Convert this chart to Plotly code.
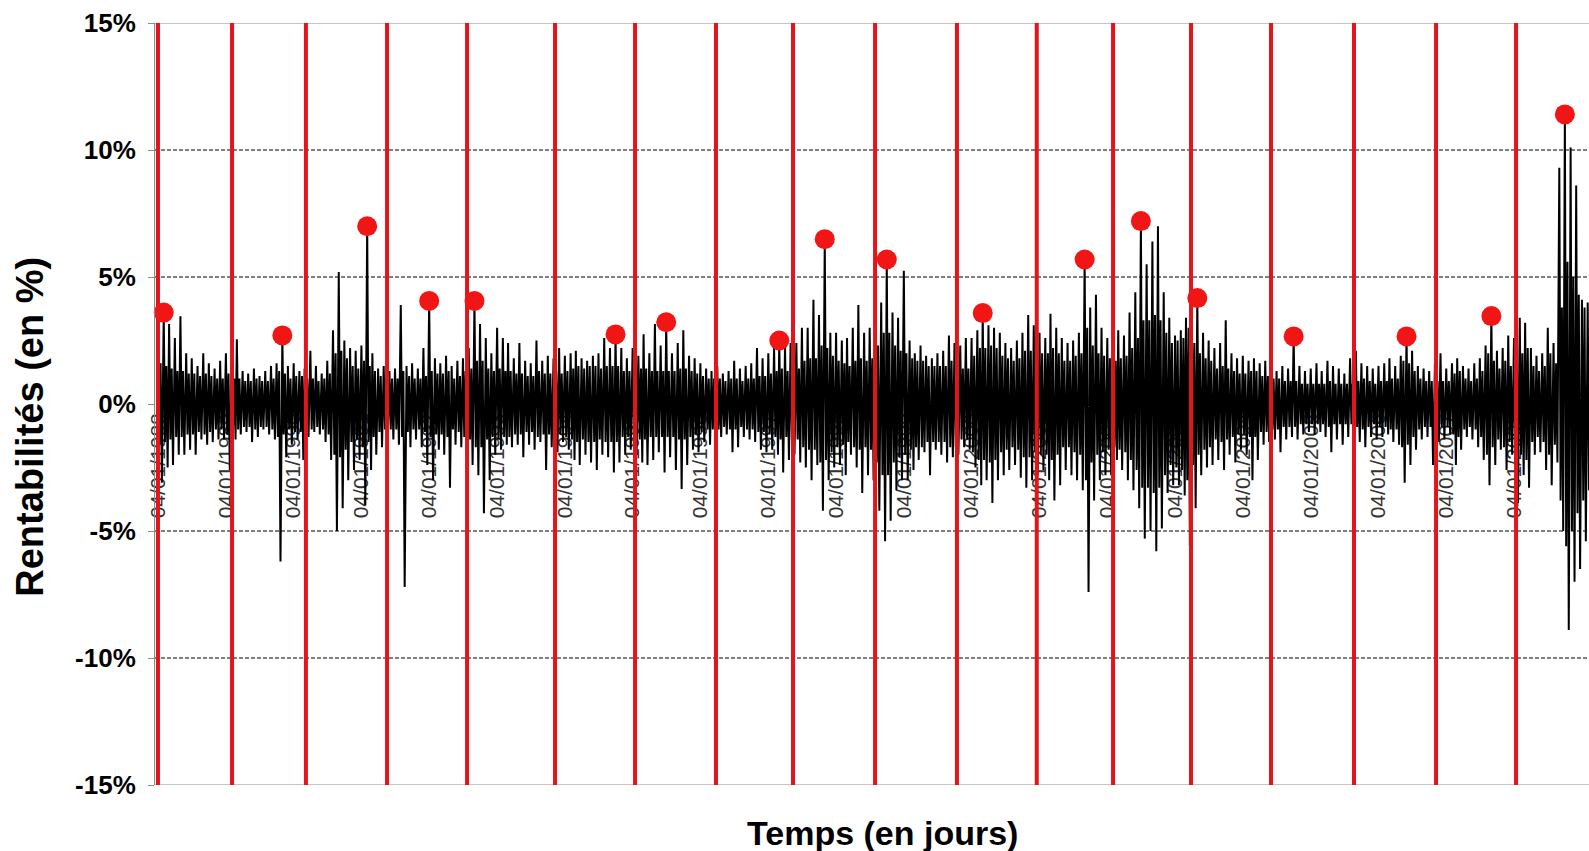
import plotly.graph_objects as go

# ---------------- data (daily returns in %, read per month: high, low and solid-core half-width) ----------------
hi_1988 = [2.6, 3.6, 3.15, 2.6, 3.45, 2.0, 1.8, 1.5, 2.0, 1.6, 1.4, 1.7]
lo_1988 = [-3.1, -2.5, -2.4, -2.0, -2.0, -1.8, -2.0, -1.4, -1.6, -1.5, -1.4, -1.4]
core_1988 = [1.6, 1.5, 1.4, 1.3, 1.3, 1.2, 1.2, 1.1, 1.2, 1.1, 1.0, 1.0]
hi_1989 = [2.0, 1.4, 2.55, 1.3, 1.2, 1.4, 1.1, 1.3, 1.5, 1.6, 2.7, 1.5]
lo_1989 = [-2.6, -1.4, -1.2, -1.1, -1.5, -1.3, -1.0, -1.2, -1.4, -6.2, -2.1, -1.6]
core_1989 = [1.2, 1.0, 1.0, 0.9, 0.9, 1.0, 0.9, 0.9, 1.0, 1.3, 1.2, 1.0]
hi_1990 = [1.6, 1.3, 1.4, 2.1, 1.5, 1.2, 1.7, 2.9, 5.2, 2.5, 2.2, 2.1]
lo_1990 = [-1.4, -2.2, -1.3, -1.1, -1.2, -1.5, -2.2, -5.0, -4.1, -3.0, -2.6, -2.2]
core_1990 = [1.1, 1.1, 1.0, 1.0, 0.9, 1.0, 1.2, 2.0, 2.1, 1.8, 1.5, 1.4]
hi_1991 = [2.3, 7.0, 2.0, 1.4, 1.5, 1.3, 1.4, 3.9, 1.5, 1.6, 1.4, 2.2]
lo_1991 = [-4.0, -2.6, -2.0, -1.7, -1.5, -1.4, -1.6, -7.2, -1.7, -1.4, -1.7, -2.4]
core_1991 = [1.7, 1.5, 1.3, 1.1, 1.0, 1.0, 1.0, 1.3, 1.1, 1.0, 1.0, 1.1]
hi_1992 = [4.06, 1.8, 1.6, 1.9, 1.5, 1.7, 1.8, 2.2, 4.06, 3.15, 2.6, 2.0]
lo_1992 = [-3.0, -1.8, -2.0, -3.3, -1.6, -1.7, -2.0, -2.4, -2.8, -4.3, -3.0, -2.0]
core_1992 = [1.3, 1.2, 1.2, 1.3, 1.0, 1.1, 1.3, 1.4, 1.7, 1.7, 1.4, 1.3]
hi_1993 = [3.0, 2.6, 2.4, 1.8, 2.4, 1.7, 1.6, 2.5, 1.7, 1.9, 1.8, 2.2]
lo_1993 = [-1.8, -1.6, -1.7, -1.6, -2.1, -1.6, -1.8, -1.5, -2.6, -1.7, -1.9, -1.5]
core_1993 = [1.4, 1.3, 1.3, 1.2, 1.2, 1.1, 1.1, 1.3, 1.2, 1.2, 1.3, 1.2]
hi_1994 = [1.9, 2.0, 2.1, 1.8, 1.7, 1.9, 2.0, 2.6, 2.2, 2.74, 2.2, 1.8]
lo_1994 = [-1.8, -2.2, -2.4, -2.0, -2.3, -2.6, -2.0, -2.1, -2.7, -2.3, -2.0, -1.8]
core_1994 = [1.3, 1.4, 1.5, 1.4, 1.5, 1.5, 1.4, 1.5, 1.5, 1.5, 1.3, 1.3]
hi_1995 = [2.2, 1.9, 2.75, 2.0, 3.15, 2.3, 3.22, 2.0, 2.4, 2.9, 1.9, 1.8]
lo_1995 = [-2.0, -2.3, -2.4, -2.2, -1.9, -2.7, -2.1, -2.6, -3.35, -2.4, -1.8, -1.9]
core_1995 = [1.4, 1.4, 1.4, 1.3, 1.3, 1.3, 1.3, 1.3, 1.4, 1.4, 1.3, 1.2]
hi_1996 = [1.6, 1.4, 1.3, 1.5, 1.2, 1.3, 1.7, 1.4, 1.5, 1.6, 2.2, 1.8]
lo_1996 = [-1.5, -1.6, -1.4, -1.3, -1.2, -1.9, -1.7, -1.3, -1.4, -1.5, -1.8, -1.9]
core_1996 = [1.1, 1.0, 1.0, 1.0, 0.9, 1.0, 1.0, 0.9, 1.0, 1.0, 1.1, 1.1]
hi_1997 = [2.0, 2.2, 2.5, 2.3, 2.4, 2.4, 3.0, 3.0, 4.1, 3.5, 6.49, 2.8]
lo_1997 = [-1.8, -2.0, -2.7, -2.2, -2.0, -2.3, -2.5, -3.0, -2.4, -4.2, -3.0, -2.5]
core_1997 = [1.2, 1.3, 1.4, 1.3, 1.4, 1.4, 1.7, 1.8, 1.8, 2.3, 2.2, 1.9]
hi_1998 = [2.8, 2.5, 2.6, 3.0, 3.9, 2.8, 3.0, 3.5, 4.0, 5.69, 3.6, 3.4]
lo_1998 = [-2.4, -2.8, -2.0, -2.5, -3.5, -2.8, -3.0, -4.2, -5.4, -4.6, -3.4, -3.0]
core_1998 = [1.7, 1.6, 1.5, 1.7, 1.8, 1.7, 1.8, 2.3, 2.8, 2.8, 2.3, 2.1]
hi_1999 = [5.25, 2.5, 2.0, 2.3, 1.9, 1.8, 2.0, 2.1, 2.7, 2.4, 2.3, 2.6]
lo_1999 = [-3.0, -2.6, -2.2, -1.9, -2.8, -1.8, -2.0, -2.3, -2.1, -2.0, -1.7, -1.8]
core_1999 = [2.0, 1.8, 1.7, 1.7, 1.5, 1.5, 1.5, 1.5, 1.7, 1.7, 1.4, 1.4]
hi_2000 = [2.6, 2.9, 3.58, 3.1, 3.0, 2.8, 2.4, 2.2, 2.5, 2.8, 3.5, 3.1]
lo_2000 = [-2.5, -3.2, -3.0, -3.9, -3.0, -2.8, -2.6, -2.4, -2.9, -3.3, -3.0, -2.8]
core_2000 = [1.9, 2.2, 2.2, 2.3, 2.2, 1.9, 1.8, 1.7, 1.8, 2.1, 2.1, 1.9]
hi_2001 = [2.8, 2.6, 3.55, 3.0, 2.6, 2.4, 2.5, 2.8, 5.69, 3.8, 4.3, 3.0]
lo_2001 = [-2.6, -3.0, -3.8, -3.2, -2.6, -2.8, -3.0, -3.4, -7.4, -3.8, -3.0, -2.8]
core_2001 = [2.0, 2.0, 2.2, 2.0, 1.7, 1.7, 1.9, 2.0, 3.0, 2.3, 2.0, 1.9]
hi_2002 = [2.6, 2.4, 2.9, 2.7, 3.6, 4.4, 7.2, 5.5, 6.4, 7.0, 4.4, 3.4]
lo_2002 = [-2.8, -2.2, -2.6, -3.0, -3.4, -4.1, -5.3, -5.0, -5.8, -4.9, -3.5, -3.2]
core_2002 = [1.8, 1.7, 1.8, 1.9, 2.2, 2.6, 3.3, 3.3, 3.5, 3.3, 2.8, 2.4]
hi_2003 = [2.7, 2.9, 3.4, 3.6, 4.17, 2.8, 2.5, 2.2, 2.4, 3.3, 2.0, 1.8]
lo_2003 = [-3.2, -3.6, -5.6, -4.1, -2.8, -2.5, -2.4, -2.2, -2.6, -2.0, -2.3, -1.8]
core_2003 = [2.5, 2.6, 3.0, 2.4, 2.0, 1.8, 1.7, 1.4, 1.5, 1.4, 1.3, 1.2]
hi_2004 = [1.9, 1.7, 1.8, 1.6, 1.7, 1.4, 1.3, 1.5, 1.4, 2.66, 1.5, 1.3]
lo_2004 = [-2.0, -3.0, -2.2, -1.6, -1.5, -1.4, -1.9, -1.4, -1.3, -1.4, -1.2, -1.1]
core_2004 = [1.2, 1.3, 1.3, 1.1, 1.1, 1.0, 1.0, 0.9, 0.9, 0.9, 0.8, 0.8]
hi_2005 = [1.4, 1.6, 1.3, 1.7, 1.5, 1.4, 1.2, 1.8, 2.1, 1.6, 1.5, 1.4]
lo_2005 = [-1.2, -1.1, -1.3, -1.9, -1.4, -1.6, -1.3, -1.2, -1.5, -1.7, -1.3, -1.4]
core_2005 = [0.8, 0.8, 0.8, 0.9, 0.8, 0.8, 0.8, 0.8, 0.9, 1.0, 0.9, 0.8]
hi_2006 = [1.5, 1.6, 1.8, 1.5, 1.9, 2.66, 2.1, 1.5, 1.4, 1.3, 1.6, 2.0]
lo_2006 = [-1.3, -1.2, -1.5, -1.6, -3.1, -2.4, -1.8, -1.4, -1.3, -2.4, -1.5, -1.4]
core_2006 = [0.9, 0.9, 1.0, 1.0, 1.7, 1.6, 1.3, 1.0, 0.9, 0.9, 0.9, 0.9]
hi_2007 = [1.4, 1.6, 1.8, 1.5, 1.4, 1.6, 1.8, 2.3, 3.46, 2.1, 2.2, 2.7]
lo_2007 = [-1.2, -2.4, -1.8, -1.3, -1.4, -1.7, -2.2, -3.2, -2.4, -1.8, -2.6, -2.0]
core_2007 = [0.9, 1.2, 1.3, 1.0, 0.9, 1.0, 1.3, 2.0, 1.7, 1.4, 1.7, 1.5]
hi_2008 = [2.6, 3.4, 3.2, 2.2, 1.9, 2.0, 3.0, 2.4, 9.3, 11.4, 10.1, 8.6]
lo_2008 = [-3.9, -2.8, -3.3, -2.0, -1.9, -2.6, -3.2, -2.3, -5.0, -8.9, -7.0, -6.5]
core_2008 = [2.4, 2.0, 2.2, 1.5, 1.3, 1.5, 2.0, 1.6, 3.8, 5.6, 5.0, 4.3]
hi_2009 = [4.1, 4.0]
lo_2009 = [-5.4, -4.5]
core_2009 = [3.8, 3.4]

# block boundaries (red vertical lines)
block_starts = ['1988-01-04', '1989-02-06', '1990-03-11', '1991-05-22', '1992-07-26',
                '1993-11-12', '1995-01-17', '1996-03-28', '1997-05-17', '1998-08-02',
                '1999-10-17', '2000-12-20', '2002-02-04', '2003-03-31', '2004-06-04',
                '2005-08-25', '2006-11-10', '2008-01-15']

year_labels = ['04/01/1988', '04/01/1989', '04/01/1990', '04/01/1991', '04/01/1992',
               '04/01/1993', '04/01/1994', '04/01/1995', '04/01/1996', '04/01/1997',
               '04/01/1998', '04/01/1999', '04/01/2000', '04/01/2001', '04/01/2002',
               '04/01/2003', '04/01/2004', '04/01/2005', '04/01/2006', '04/01/2007',
               '04/01/2008', '04/01/2009']

y_ticks = [-15, -10, -5, 0, 5, 10, 15]
y_tick_labels = ['-15%', '-10%', '-5%', '0%', '5%', '10%', '15%']

# ---------------- build series ----------------
highs = {1988: hi_1988, 1989: hi_1989, 1990: hi_1990, 1991: hi_1991, 1992: hi_1992,
         1993: hi_1993, 1994: hi_1994, 1995: hi_1995, 1996: hi_1996, 1997: hi_1997,
         1998: hi_1998, 1999: hi_1999, 2000: hi_2000, 2001: hi_2001, 2002: hi_2002,
         2003: hi_2003, 2004: hi_2004, 2005: hi_2005, 2006: hi_2006, 2007: hi_2007,
         2008: hi_2008, 2009: hi_2009}
lows = {1988: lo_1988, 1989: lo_1989, 1990: lo_1990, 1991: lo_1991, 1992: lo_1992,
        1993: lo_1993, 1994: lo_1994, 1995: lo_1995, 1996: lo_1996, 1997: lo_1997,
        1998: lo_1998, 1999: lo_1999, 2000: lo_2000, 2001: lo_2001, 2002: lo_2002,
        2003: lo_2003, 2004: lo_2004, 2005: lo_2005, 2006: lo_2006, 2007: lo_2007,
        2008: lo_2008, 2009: lo_2009}
cores = {1988: core_1988, 1989: core_1989, 1990: core_1990, 1991: core_1991, 1992: core_1992,
         1993: core_1993, 1994: core_1994, 1995: core_1995, 1996: core_1996, 1997: core_1997,
         1998: core_1998, 1999: core_1999, 2000: core_2000, 2001: core_2001, 2002: core_2002,
         2003: core_2003, 2004: core_2004, 2005: core_2005, 2006: core_2006, 2007: core_2007,
         2008: core_2008, 2009: core_2009}

dates, values = [], []
hi_dates, hi_values = [], []
for yr in sorted(highs):
    for m, (h, l, c) in enumerate(zip(highs[yr], lows[yr], cores[yr]), start=1):
        dates += [f"{yr}-{m:02d}-04", f"{yr}-{m:02d}-11", f"{yr}-{m:02d}-18", f"{yr}-{m:02d}-25"]
        values += [h, -c, c, l]
        hi_dates.append(f"{yr}-{m:02d}-04")
        hi_values.append(h)

# block maxima (red dots): highest return inside each block
max_dates, max_vals = [], []
bounds = block_starts + ['2100-01-01']
for i in range(len(block_starts)):
    best = None
    for d, v in zip(hi_dates, hi_values):
        if bounds[i] <= d < bounds[i + 1] and (best is None or v > best[1]):
            best = (d, v)
    if best:
        max_dates.append(best[0])
        max_vals.append(best[1])

tick_dates = [f"{s[6:10]}-{s[3:5]}-{s[0:2]}" for s in year_labels]

red_x, red_y = [], []
for d in block_starts:
    red_x += [d, d, None]
    red_y += [y_ticks[0], y_ticks[-1], None]

FONT = 'Liberation Sans, Arial, sans-serif'

fig = go.Figure()
fig.add_trace(go.Scatter(x=dates, y=values, mode='lines',
                         line=dict(color='black', width=2.0),
                         hoverinfo='skip', showlegend=False))
fig.add_trace(go.Scatter(x=red_x, y=red_y, mode='lines',
                         line=dict(color='#e5141a', width=4),
                         hoverinfo='skip', showlegend=False))
fig.add_trace(go.Scatter(x=max_dates, y=max_vals, mode='markers',
                         marker=dict(color='#f21515', size=20),
                         cliponaxis=False, showlegend=False))

# horizontal grid lines (dashed) and plot borders
for g in [-10, -5, 5, 10]:
    fig.add_shape(type='line', xref='paper', x0=0, x1=1, yref='y', y0=g, y1=g,
                  line=dict(color='black', width=1, dash='4px,2px'), layer='below')
for g in [-15, 15]:
    fig.add_shape(type='line', xref='paper', x0=0, x1=1, yref='y', y0=g, y1=g,
                  line=dict(color='#8c8c8c', width=1), layer='below')

fig.update_layout(
    width=1589, height=851,
    margin=dict(l=155, r=0, t=23, b=66),
    paper_bgcolor='white', plot_bgcolor='white',
    showlegend=False,
    xaxis=dict(type='date', range=['1987-12-19', '2009-02-11'],
               anchor='free', position=0.5, automargin=False,
               tickmode='array', tickvals=tick_dates, ticktext=year_labels,
               tickangle=-90, ticks='', showgrid=False, zeroline=False, showline=False,
               tickfont=dict(family=FONT, size=21, color='#333333'),
               ticklabelstandoff=4, layer='below traces'),
    yaxis=dict(range=[-15, 15], tickmode='array', tickvals=y_ticks, ticktext=y_tick_labels,
               automargin=False,
               showgrid=False, zeroline=False, showline=True, linecolor='#8c8c8c', linewidth=1,
               ticks='outside', ticklen=6, tickcolor='#8c8c8c', ticklabelstandoff=7,
               tickfont=dict(family=FONT, size=26, color='black', weight='bold')),
    annotations=[
        dict(text='Rentabilités (en %)', textangle=-90, xref='paper', yref='paper',
             x=-0.0872, y=0.47, xanchor='center', yanchor='middle', showarrow=False,
             font=dict(family=FONT, size=38, color='black', weight='bold')),
        dict(text='Temps (en jours)', xref='paper', yref='paper',
             x=0.5075, y=-0.063, xanchor='center', yanchor='middle', showarrow=False,
             font=dict(family=FONT, size=34, color='black', weight='bold')),
    ],
)

fig.write_html("out.html", config={'displayModeBar': False},
               post_script="document.body.style.margin='0';document.body.style.overflow='hidden';")
